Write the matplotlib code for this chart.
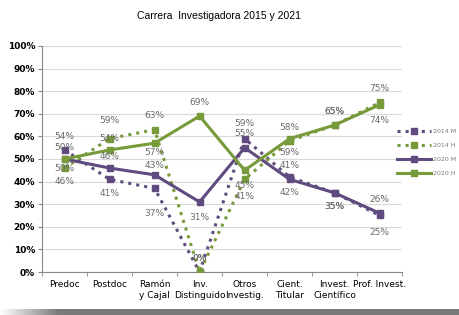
import matplotlib
matplotlib.use("Agg")
import matplotlib.pyplot as plt
import numpy as np
from matplotlib.ticker import FixedLocator, PercentFormatter

plt.rcParams['font.family'] = ['Liberation Sans Narrow', 'DejaVu Sans']

# datos
categorias = ["Predoc", "Postdoc", "Ramón\ny Cajal", "Inv.\nDistinguido", "Otros\nInvestig.",
              "Cient.\nTitular", "Invest.\nCientífico", "Prof. Invest."]
m_2014 = [54, 41, 37, 0, 59, 42, 35, 25]
h_2014 = [46, 59, 63, 0, 41, 58, 65, 75]
m_2020 = [50, 46, 43, 31, 55, 41, 35, 26]
h_2020 = [50, 54, 57, 69, 45, 59, 65, 74]
series = ["2014 M", "2014 H", "2020 M", "2020 H"]

# posicion de etiquetas (puntos, + arriba / - abajo)
off_m14 = [10, -10, -18, 10, 11, -11, -10, -12]
off_h14 = [-10, 13, 10, 10, -12, 10, 10, 10]
off_m20 = [8, 8, 7, -11, 10, 10, -10, 10]
off_h20 = [-7, 8, -7, 10, -11, -10, 10, -11]

morado = "#5f4b7f"
verde = "#779a3a"

fig = plt.figure(figsize=(4.6, 3.15), dpi=100)
ax = fig.add_axes([0.0913, 0.1365, 0.783, 0.7175])
x = np.arange(len(categorias))

estilos = [
    (m_2014, morado, ":", off_m14),
    (h_2014, verde, ":", off_h14),
    (m_2020, morado, "-", off_m20),
    (h_2020, verde, "-", off_h20),
]
for (vals, col, ls, offs), nombre in zip(estilos, series):
    ax.plot(x, vals, color=col, linestyle=ls, linewidth=2.2, marker="s",
            markersize=5, label=nombre, zorder=3)
    for xi, v, o in zip(x, vals, offs):
        ax.annotate(f"{v}%", (xi, v), xytext=(0, o), textcoords="offset points",
                    ha="center", va="center", fontsize=6.5, color="#6a6a6a", zorder=4)

ax.set_xlim(-0.5, 7.5)
ax.set_ylim(0, 100)
ax.set_yticks(range(0, 101, 10))
ax.yaxis.set_major_formatter(PercentFormatter(decimals=0))
ax.grid(axis="y", color="#d9d9d9", linewidth=0.8, zorder=0)
ax.set_axisbelow(True)
ax.set_xticks(x)
ax.set_xticklabels(categorias, fontsize=6.5)
ax.tick_params(axis="x", length=0, pad=6)
ax.xaxis.set_minor_locator(FixedLocator(np.arange(-0.5, 8, 1)))
ax.tick_params(axis="x", which="minor", length=3, color="#888888")
ax.tick_params(axis="y", labelsize=6.5, length=3, color="#888888", pad=2)
for lab in ax.get_yticklabels():
    lab.set_fontweight("bold")
for s in ["top", "right"]:
    ax.spines[s].set_visible(False)
for s in ["left", "bottom"]:
    ax.spines[s].set_color("#888888")

fig.text(0.476, 0.95, "Carrera  Investigadora 2015 y 2021", ha="center", va="center",
         fontsize=7.5, family=["Liberation Sans", "DejaVu Sans"])

leg = fig.legend(loc="upper left", bbox_to_anchor=(0.85, 0.61), frameon=False,
                 fontsize=4.5, handlelength=5.5, labelspacing=1.4, handletextpad=0.4)
for t in leg.get_texts():
    t.set_color("#777777")

# barra gris inferior
barra = fig.add_axes([0, 0, 1, 0.018])
grad = np.linspace(0, 1, 256).reshape(1, -1)
grad = np.clip(grad * 8, 0, 1)
barra.imshow(grad, aspect="auto", cmap=matplotlib.colors.LinearSegmentedColormap.from_list(
    "g", ["#ffffff", "#7a7a7a"]))
barra.axis("off")

fig.savefig("out.png", dpi=100)
